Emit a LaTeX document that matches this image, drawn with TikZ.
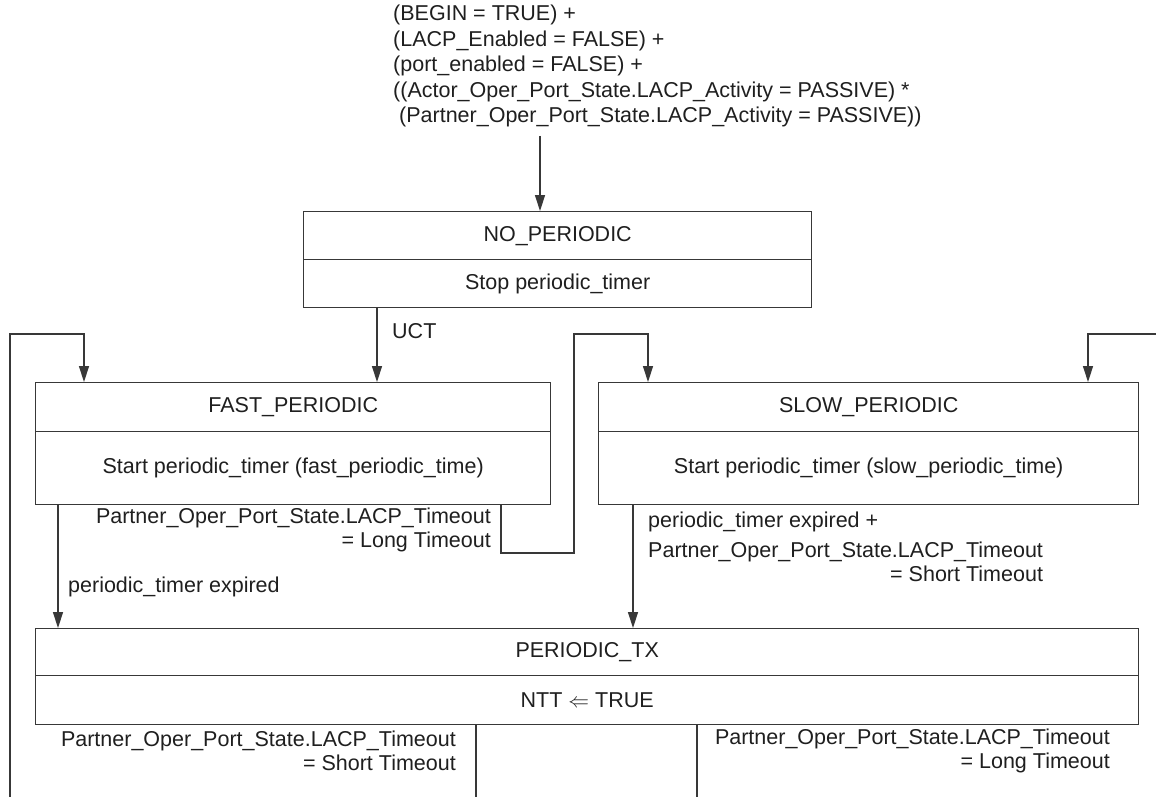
\documentclass[tikz,border=0pt]{standalone}
\usepackage{fontspec}
\setmainfont{Liberation Sans}
\usetikzlibrary{arrows.meta,calc}
\newcommand{\diagfont}{\fontsize{21.5}{24}\selectfont}
\newcommand{\condfont}{\fontsize{21.5}{25.5}\selectfont}
\begin{document}
\begin{tikzpicture}[x=1pt,y=-1pt,
  wire/.style={draw=black!78, line width=1.4pt},
  arr/.style={wire, -{Triangle[length=16pt,width=10pt]}},
  cell/.style={draw=black!78, line width=1.4pt, minimum height=#1,
    inner sep=0pt, anchor=north west, text=black!88, font=\diagfont},
  lbl/.style={inner sep=0pt, text=black!88, font=\diagfont},
]
\useasboundingbox (0,0) rectangle (1156,797);
\fill[white] (0,0) rectangle (1156,797);

% entry condition
\node[lbl, font=\condfont, anchor=north west, align=left] (cond) at (393,5)
  {(BEGIN = TRUE) +\\
   (LACP\_Enabled = FALSE) +\\
   (port\_enabled = FALSE) +\\
   ((Actor\_Oper\_Port\_State.LACP\_Activity = PASSIVE) *\\
   \ (Partner\_Oper\_Port\_State.LACP\_Activity = PASSIVE))};

% states: name compartment above action compartment
\node[cell=48pt, minimum width=508pt] (np)  at (303,211) {NO\_PERIODIC};
\node[cell=48pt, minimum width=508pt] (npa) at (303,259) {Stop periodic\_timer};

\node[cell=49pt, minimum width=515pt] (fp)  at (35,382) {FAST\_PERIODIC};
\node[cell=73pt, minimum width=515pt] (fpa) at (35,431) {Start periodic\_timer (fast\_periodic\_time)};

\node[cell=49pt, minimum width=540pt] (sp)  at (598,382) {SLOW\_PERIODIC};
\node[cell=73pt, minimum width=540pt] (spa) at (598,431) {Start periodic\_timer (slow\_periodic\_time)};

\node[cell=47pt, minimum width=1103pt] (tx)  at (35,628) {PERIODIC\_TX};
\node[cell=49pt, minimum width=1103pt] (txa) at (35,675) {NTT $\Leftarrow$ TRUE};

% routing points
\coordinate (c0) at (540,136);
\coordinate (L0) at (10,797);
\coordinate (L1) at (10,334);
\coordinate (m1) at (574,553);
\coordinate (m2) at (574,334);
\coordinate (R0) at (1156,334);
\coordinate (b1) at (476,797);
\coordinate (b2) at (697,797);

% transitions
\draw[arr] (c0) -- (c0 |- np.north);
\draw[arr] ($(npa.south west)+(74,0)$) -- ($(fp.north west)+(342,0)$);
\draw[arr] (L0) -- (L1) -| ($(fp.north west)+(49,0)$);
\draw[arr] ($(fpa.south west)+(466,0)$) |- (m1) -- (m2) -| ($(sp.north west)+(50,0)$);
\draw[arr] (R0) -| ($(sp.north west)+(490,0)$);
\draw[arr] ($(fpa.south west)+(23,0)$) -- ($(tx.north west)+(23,0)$);
\draw[arr] ($(spa.south west)+(35,0)$) -- ($(tx.north west)+(598,0)$);
\draw[wire] (txa.south -| b1) -- (b1);
\draw[wire] (txa.south -| b2) -- (b2);

% transition labels
\node[lbl, anchor=west] (uct) at (392,331) {UCT};
\node[lbl, anchor=north east, align=right] (fl) at (491,508)
  {Partner\_Oper\_Port\_State.LACP\_Timeout\\= Long Timeout};
\node[lbl, anchor=west] (fe) at (68,587) {periodic\_timer expired};
\node[lbl, anchor=west] (se) at (648,522) {periodic\_timer expired +};
\node[lbl, anchor=north west, align=right] (sl) at (648,542)
  {Partner\_Oper\_Port\_State.LACP\_Timeout\\= Short Timeout};
\node[lbl, anchor=north east, align=right] (bl) at (456,731)
  {Partner\_Oper\_Port\_State.LACP\_Timeout\\= Short Timeout};
\node[lbl, anchor=north east, align=right] (br) at (1110,729)
  {Partner\_Oper\_Port\_State.LACP\_Timeout\\= Long Timeout};
\end{tikzpicture}
\end{document}
